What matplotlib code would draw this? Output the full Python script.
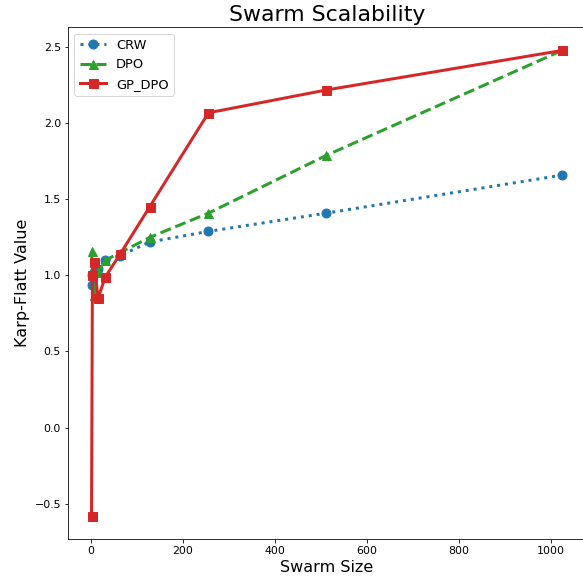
import matplotlib
matplotlib.use("Agg")
import matplotlib.pyplot as plt

# swarm sizes and Karp-Flatt values
swarm_sizes = [2, 4, 8, 16, 32, 64, 128, 256, 512, 1024]
crw = [0.94, 1.00, 1.02, 1.04, 1.10, 1.13, 1.22, 1.29, 1.41, 1.66]
dpo = [1.16, 1.03, 0.87, 1.02, 1.10, 1.15, 1.25, 1.41, 1.79, 2.48]
gp_dpo = [-0.58, 1.00, 1.09, 0.85, 0.99, 1.14, 1.45, 2.07, 2.22, 2.48]

fig = plt.figure(figsize=(583 / 72, 577 / 72), dpi=72)
ax = fig.add_axes([0.1166, 0.0659, 0.888, 0.887])

ax.plot(swarm_sizes, crw, linestyle=':', marker='o', color='tab:blue',
        linewidth=3, markersize=9, label='CRW')
ax.plot(swarm_sizes, dpo, linestyle='--', marker='^', color='tab:green',
        linewidth=3, markersize=9, label='DPO')
ax.plot(swarm_sizes, gp_dpo, linestyle='-', marker='s', color='tab:red',
        linewidth=3, markersize=9, label='GP_DPO')

ax.set_title('Swarm Scalability', fontsize=22)
ax.set_xlabel('Swarm Size', fontsize=16)
ax.set_ylabel('Karp-Flatt Value', fontsize=16)
ax.tick_params(labelsize=11)
ax.legend(loc='upper left', fontsize=13)

fig.savefig('out.png', dpi=72)
